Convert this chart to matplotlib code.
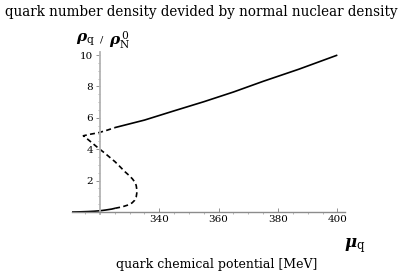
import numpy as np
import matplotlib
matplotlib.use("Agg")
import matplotlib.pyplot as plt
from matplotlib.ticker import MultipleLocator

plt.rcParams['font.family'] = ['DejaVu Serif']
plt.rcParams['mathtext.fontset'] = 'dejavuserif'

# rama estable de baja densidad (solida)
mu_bajo = [310.5, 313.0, 316.0, 318.0, 320.0, 322.0, 324.0, 325.1]
rho_bajo = [0.0, 0.01, 0.03, 0.05, 0.08, 0.13, 0.19, 0.24]

# rama inestable (discontinua)
mu_medio = [325.1, 327.5, 329.5, 330.8, 331.7, 332.2, 332.4, 332.4, 332.2, 331.7, 330.9,
            329.7, 328.4, 326.8, 325.1, 323.4, 321.7, 318.9, 316.1, 314.4, 316.5, 319.4, 322.5, 325.0]
rho_medio = [0.24, 0.33, 0.45, 0.58, 0.75, 0.95, 1.2, 1.45, 1.7, 1.92, 2.12,
             2.35, 2.57, 2.88, 3.2, 3.47, 3.74, 4.16, 4.6, 4.86, 4.95, 5.05, 5.22, 5.38]

# rama estable de alta densidad (solida)
mu_alto = [325.0, 335.0, 345.0, 355.0, 365.0, 375.0, 387.0, 400.0]
rho_alto = [5.38, 5.86, 6.45, 7.03, 7.65, 8.33, 9.1, 10.0]

x_ticks = [340, 360, 380, 400]
y_ticks = [2, 4, 6, 8, 10]

fig = plt.figure(figsize=(4.02, 2.73), dpi=100)
ax = fig.add_axes([0.1786, 0.2176, 0.679, 0.592])

ax.plot(mu_bajo, rho_bajo, color='black', lw=1.2, solid_capstyle='butt')
ax.plot(mu_medio, rho_medio, color='black', lw=1.2, dashes=(3, 2))
ax.plot(mu_alto, rho_alto, color='black', lw=1.2, solid_capstyle='butt')

ax.set_xlim(310.5, 402.5)
ax.set_ylim(-0.1, 10.2)

for s in ['top', 'right']:
    ax.spines[s].set_visible(False)
ax.spines['left'].set_position(('data', 320))
ax.spines['bottom'].set_position(('data', 0))
ax.spines['left'].set_color('0.7')
ax.spines['bottom'].set_color('0.55')
ax.spines['left'].set_linewidth(1.3)
ax.spines['bottom'].set_linewidth(1.0)

ax.set_xticks(x_ticks)
ax.set_yticks(y_ticks)
ax.xaxis.set_minor_locator(MultipleLocator(5))
ax.yaxis.set_minor_locator(MultipleLocator(0.5))
ax.tick_params(which='major', length=3, width=0.6, color='0.5', labelsize=7.5, pad=2)
ax.tick_params(which='minor', length=1.5, width=0.5, color='0.6')
ax.tick_params(axis='x', direction='in')
ax.tick_params(axis='y', direction='out')

fig.text(0.5, 0.955, 'quark number density devided by normal nuclear density',
         ha='center', va='center', fontsize=9.75)
fig.text(0.54, 0.03, 'quark chemical potential [MeV]', ha='center', va='center', fontsize=9)
fig.text(0.855, 0.1, r'$\boldsymbol{\mu}_{\rm q}$', ha='left', va='center', fontsize=12)
fig.text(0.19, 0.855, r'$\boldsymbol{\rho}_{\rm q}$', ha='left', va='center', fontsize=11)
fig.text(0.252, 0.852, '/', ha='center', va='center', fontsize=7)
fig.text(0.27, 0.855, r'$\boldsymbol{\rho}_{\rm N}^{\,0}$', ha='left', va='center', fontsize=11)

fig.savefig('out.png', dpi=100)
